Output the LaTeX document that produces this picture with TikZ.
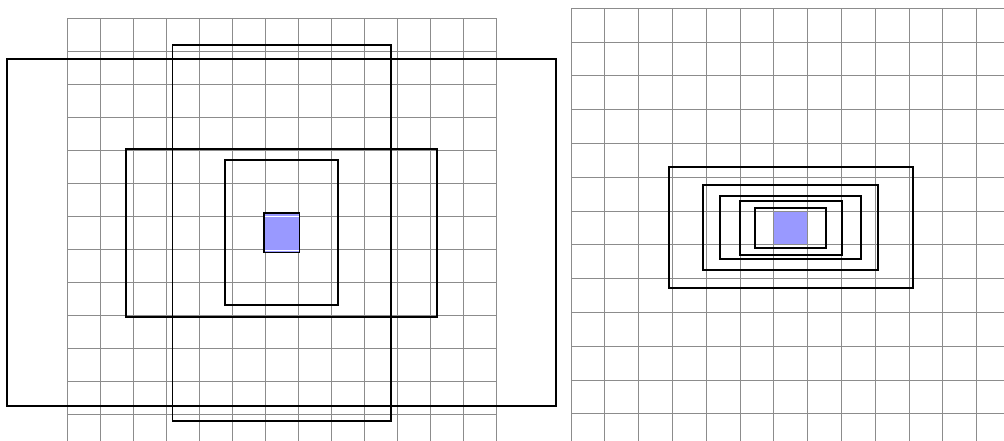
\documentclass[tikz,border=0pt]{standalone}
\definecolor{fillblue}{HTML}{9999FF}
\begin{document}
\begin{tikzpicture}[x=1pt,y=-1pt,
  gridline/.style={draw=black!45,line width=0.9pt},
  frame/.style={draw=black,line width=1.8pt},
  bluecell/.style={fill=fillblue,draw=none}]
\useasboundingbox (0,0) rectangle (1004,441);
\begin{scope}
\clip (0,0) rectangle (1004,441);
% ---------- left panel ----------
\foreach \i in {0,...,13}
  \draw[gridline] (67+33*\i,18.3) -- (67+33*\i,445);
\foreach \j in {0,...,12}
  \draw[gridline] (67,18.3+33*\j) -- (496,18.3+33*\j);
\fill[bluecell] (264,213.3) rectangle (299.5,252.5);
\draw[white,line width=0.6pt] (264,215.8) -- (299.5,215.8);
\draw[white,line width=0.6pt] (264,250.2) -- (299.5,250.2);
\draw[frame] (7,59.3) rectangle (556,406);
\draw[frame] (172.5,45) rectangle (391,420.7);
\draw[frame] (126,149) rectangle (437,317);
\draw[frame] (225,160.3) rectangle (338,305.3);
\draw[frame] (264,213.3) rectangle (299.5,252.5);
% ---------- right panel ----------
\fill[bluecell] (774,211) rectangle (807.8,244.8);
\foreach \i in {0,...,13}
  \draw[gridline] (571+33.8*\i,8.3) -- (571+33.8*\i,445);
\foreach \j in {0,...,13}
  \draw[gridline] (571,8.3+33.8*\j) -- (1010,8.3+33.8*\j);
\draw[frame] (668.7,166.7) rectangle (912.7,288.3);
\draw[frame] (703,185) rectangle (878.3,270);
\draw[frame] (720,196) rectangle (861.3,259.3);
\draw[frame] (739.7,201.3) rectangle (842,254.7);
\draw[frame] (755.3,208) rectangle (826.3,247.7);
\end{scope}
\end{tikzpicture}
\end{document}
